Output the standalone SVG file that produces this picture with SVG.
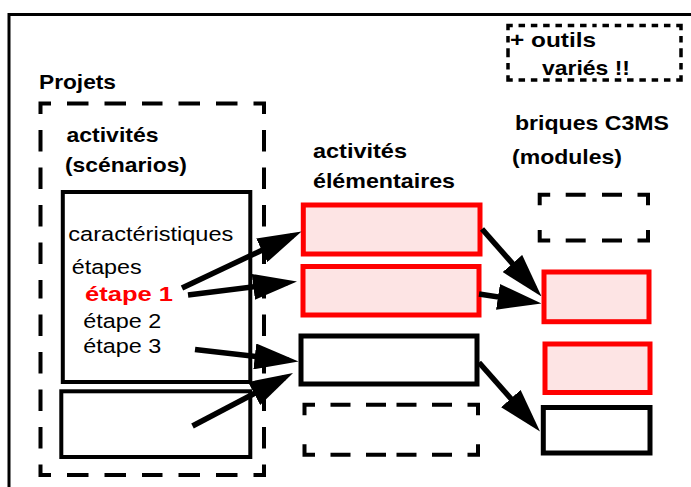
<svg xmlns="http://www.w3.org/2000/svg" width="691" height="487" viewBox="0 0 691 487">
<style>
text{font-family:"Liberation Sans",Arial,Helvetica,sans-serif;font-size:20.5px;fill:#000}
.b{font-weight:bold}
.red{fill:#ff0000}
.solid{fill:#fff;stroke:#000;stroke-width:5}
.solid4{fill:#fff;stroke:#000;stroke-width:4}
.pink{fill:#fde4e4;stroke:#ff0000;stroke-width:5}
.dash{fill:none;stroke:#000;stroke-width:4;stroke-linecap:square;stroke-dasharray:16 19.5;stroke-dashoffset:7.5}
.dashbig{fill:none;stroke:#000;stroke-width:4;stroke-linecap:square;stroke-dasharray:17.5 20;stroke-dashoffset:9}
.dot{fill:none;stroke:#000;stroke-width:3.5;stroke-linecap:square;stroke-dasharray:3 9.3}
.arrow{fill:none;stroke:#000;stroke-width:5.5;marker-end:url(#ah)}
</style>
<defs>
<marker id="ah" markerUnits="userSpaceOnUse" markerWidth="44" markerHeight="26" viewBox="0 0 44 26" refX="34" refY="13" orient="auto">
<path d="M0,0 L44,13 L0,26 Z" fill="#000"/>
</marker>
</defs>
<rect width="691" height="487" fill="#fff"/>
<g id="frame">
<rect x="9" y="14.5" width="720" height="520" fill="none" stroke="#000" stroke-width="3"/>
</g>
<g id="outils">
<path class="dot" d="M508 25.5 H594.5 M681 25.5 H594.5 M681 25.5 V52.75 M681 80 V52.75 M681 80 H594.5 M508 80 H594.5 M508 80 V52.75 M508 25.5 V52.75"/>
<text class="b" x="510" y="47" textLength="86" lengthAdjust="spacingAndGlyphs">+ outils</text>
<text class="b" x="542" y="74.5" textLength="88" lengthAdjust="spacingAndGlyphs">variés !!</text>
</g>
<g id="projets">
<text class="b" x="39" y="88.5" textLength="77" lengthAdjust="spacingAndGlyphs">Projets</text>
<path class="dashbig" d="M40.5 103.5 H152.25 M264 103.5 H152.25 M264 103.5 V289.25 M264 475 V289.25 M264 475 H152.25 M40.5 475 H152.25 M40.5 475 V289.25 M40.5 103.5 V289.25"/>
<text class="b" x="66.5" y="142" textLength="92" lengthAdjust="spacingAndGlyphs">activités</text>
<text class="b" x="65" y="171.5" textLength="122" lengthAdjust="spacingAndGlyphs">(scénarios)</text>
</g>
<g id="scenario">
<rect class="solid4" x="62.8" y="192" width="187.5" height="190"/>
<text x="68.3" y="241" textLength="165" lengthAdjust="spacingAndGlyphs">caractéristiques</text>
<text x="71.7" y="274" textLength="70" lengthAdjust="spacingAndGlyphs">étapes</text>
<text class="b red" x="85" y="300.5" textLength="88" lengthAdjust="spacingAndGlyphs">étape 1</text>
<text x="83.3" y="327.5" textLength="78" lengthAdjust="spacingAndGlyphs">étape 2</text>
<text x="83.3" y="353" textLength="78" lengthAdjust="spacingAndGlyphs">étape 3</text>
</g>
<g id="scenario2">
<rect class="solid4" x="61.3" y="391.3" width="189" height="65.7"/>
</g>
<g id="titre-elem">
<text class="b" x="313" y="158" textLength="94" lengthAdjust="spacingAndGlyphs">activités</text>
<text class="b" x="313" y="188" textLength="142" lengthAdjust="spacingAndGlyphs">élémentaires</text>
</g>
<g id="elem1"><rect class="pink" x="303.3" y="205" width="176.7" height="49"/></g>
<g id="elem2"><rect class="pink" x="303" y="266.5" width="176" height="48.5"/></g>
<g id="elem3"><rect class="solid" x="301" y="336" width="176" height="48"/></g>
<g id="elem4">
<path class="dash" d="M304.5 404.7 H391.25 M478 404.7 H391.25 M478 404.7 V429.7 M478 454.7 V429.7 M478 454.7 H391.25 M304.5 454.7 H391.25 M304.5 454.7 V429.7 M304.5 404.7 V429.7"/>
</g>
<g id="titre-briques">
<text class="b" x="515" y="129.5" textLength="154" lengthAdjust="spacingAndGlyphs">briques C3MS</text>
<text class="b" x="512" y="163.5" textLength="110" lengthAdjust="spacingAndGlyphs">(modules)</text>
</g>
<g id="brique1">
<path class="dash" d="M539.7 194.7 H593.85 M648 194.7 H593.85 M648 194.7 V217.6 M648 240.5 V217.6 M648 240.5 H593.85 M539.7 240.5 H593.85 M539.7 240.5 V217.6 M539.7 194.7 V217.6"/>
</g>
<g id="brique2"><rect class="pink" x="544" y="272" width="105" height="49.7"/></g>
<g id="brique3"><rect class="pink" x="545" y="344" width="105" height="48.5"/></g>
<g id="brique4"><rect class="solid" x="543.3" y="407.5" width="106.7" height="45.5"/></g>
<g id="connectors">
<line class="arrow" x1="182" y1="288" x2="292.5" y2="235.8"/>
<line class="arrow" x1="188" y1="295" x2="287.1" y2="282.7"/>
<line class="arrow" x1="195" y1="349.5" x2="288.6" y2="360.3"/>
<line class="arrow" x1="192.5" y1="426" x2="284.2" y2="377.7"/>
<line class="arrow" x1="482" y1="229" x2="534.9" y2="289"/>
<line class="arrow" x1="479" y1="294" x2="531.6" y2="302"/>
<line class="arrow" x1="479" y1="362.5" x2="533.4" y2="424"/>
</g>
</svg>
